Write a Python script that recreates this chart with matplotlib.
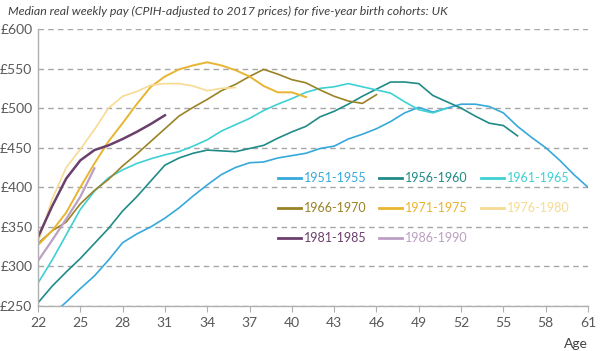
import numpy as np
import matplotlib
matplotlib.use("Agg")
import matplotlib.pyplot as plt

plt.rcParams['font.family'] = ['Lato', 'DejaVu Sans']

# cohort data, median weekly pay by age (ages start at 22)
cohorts = ["1951-1955", "1956-1960", "1961-1965", "1966-1970",
           "1971-1975", "1976-1980", "1981-1985", "1986-1990"]

pay_1951 = [222, 239, 255, 272, 288, 308, 330, 341, 350, 361, 374, 389, 403, 416,
            425, 431, 432, 437, 440, 443, 449, 452, 461, 467, 474, 483, 494, 501,
            495, 500, 505, 505, 502, 494, 477, 463, 450, 434, 416, 400]
pay_1956 = [254, 275, 293, 310, 329, 348, 370, 388, 408, 428, 437, 443, 447, 446,
            445, 449, 453, 462, 470, 477, 489, 496, 505, 515, 524, 533, 533, 531,
            516, 508, 500, 490, 481, 478, 465]
pay_1961 = [279, 308, 340, 372, 395, 412, 422, 430, 436, 441, 445, 452, 460, 471,
            479, 487, 497, 505, 512, 520, 525, 527, 531, 527, 523, 519, 508, 498,
            494, 500]
pay_1966 = [329, 345, 356, 379, 396, 410, 427, 442, 458, 474, 490, 501, 511, 522,
            530, 540, 549, 543, 536, 532, 523, 515, 509, 506, 517]
pay_1971 = [327, 345, 368, 400, 430, 458, 481, 505, 527, 540, 549, 554, 558, 554,
            548, 540, 528, 520, 520, 514]
pay_1976 = [330, 385, 425, 448, 473, 500, 515, 521, 529, 531, 531, 528, 522, 525, 526]
pay_1981 = [337, 376, 411, 434, 447, 453, 461, 470, 480, 491]
pay_1986 = [307, 333, 360, 388, 424]

series = [pay_1951, pay_1956, pay_1961, pay_1966, pay_1971, pay_1976, pay_1981, pay_1986]
colors = ["#36a9dc", "#208b87", "#3fd0d3", "#9a8226", "#e8b530", "#f7db93", "#6b3f6c", "#bca0c3"]
widths = [1.2, 1.2, 1.2, 1.2, 1.4, 1.2, 1.8, 1.6]

xticks = list(range(22, 62, 3))
yticks = list(range(250, 601, 50))

fig = plt.figure(figsize=(6.02, 3.51), dpi=100)
ax = fig.add_axes([38 / 602, 1 - 306 / 351, 550 / 602, 277 / 351])

handles = []
for name, vals, c, lw in zip(cohorts, series, colors, widths):
    ages = np.arange(22, 22 + len(vals))
    h, = ax.plot(ages, vals, color=c, lw=lw, label=name)
    handles.append(h)

ax.set_xlim(22, 61)
ax.set_ylim(250, 600)
ax.set_xticks(xticks)
ax.set_yticks(yticks)
ax.set_yticklabels([f"£{v}" for v in yticks])
ax.yaxis.grid(True, color="#a6a6a6", linestyle=(0, (4, 3)), lw=1.0)
ax.set_axisbelow(True)

for s in ["top", "right"]:
    ax.spines[s].set_visible(False)
for s in ["left", "bottom"]:
    ax.spines[s].set_color("#b0b0b0")
    ax.spines[s].set_linewidth(1.0)

ax.tick_params(axis="y", length=0, pad=4, labelsize=10, labelcolor="#595959")
ax.tick_params(axis="x", length=4, color="#b0b0b0", pad=4, labelsize=10, labelcolor="#595959")

ax.text(1.0, -0.115, "Age", transform=ax.transAxes, ha="right", va="top",
        fontsize=10, color="#404040")

fig.text(8 / 602, 1 - 11 / 351, "Median real weekly pay (CPIH-adjusted to 2017 prices) for five-year birth cohorts: UK",
         fontsize=8.9, style="italic", color="#404040", va="center", ha="left")

# legend fills column by column, so reorder to read across rows
order = [0, 3, 6, 1, 4, 7, 2, 5]
leg = ax.legend([handles[i] for i in order], [cohorts[i] for i in order],
                ncol=3, loc="upper left", bbox_to_anchor=(0.42, 0.515),
                frameon=False, labelcolor="linecolor", fontsize=9,
                handlelength=1.85, handletextpad=0.25, columnspacing=1.0,
                labelspacing=1.45, borderpad=0.2)
for line in leg.get_lines():
    line.set_linewidth(2.0)

fig.savefig("out.png", dpi=100)
